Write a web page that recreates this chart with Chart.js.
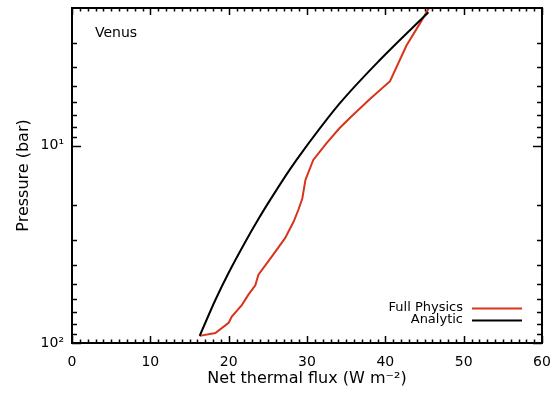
<!DOCTYPE html>
<html>
<head>
<meta charset="utf-8">
<script src="https://cdn.jsdelivr.net/npm/chart.js@4.4.0/dist/chart.umd.min.js"></script>
<style>
  html, body { margin: 0; padding: 0; background: #fff; }
  #wrap { width: 554px; height: 396px; }
</style>
</head>
<body>
<div id="wrap"><canvas id="fluxChart"></canvas></div>
<script>
// Venus: net thermal flux vs pressure
const fullFlux = [16.3, 18.3, 20.0, 20.4, 21.7, 22.5, 23.4, 23.8, 25.5, 27.2, 28.3, 28.9, 29.4, 29.8, 30.8, 32.5, 34.2, 35.5, 38.0, 40.6, 42.7, 44.4, 45.7];
const fullPressure = [92, 89, 79, 73.5, 64, 57, 51, 45, 36.5, 29.4, 24.2, 21.1, 18.5, 14.9, 11.8, 9.7, 8.1, 7.2, 5.8, 4.7, 3.1, 2.4, 1.96];
const analyticFlux = [16.3, 18.3, 20.0, 22.1, 23.8, 25.3, 27.8, 29.5, 34.2, 39.3, 45.5];
const analyticPressure = [92, 60.5, 44.0, 30.8, 23.5, 18.8, 13.2, 10.6, 6.08, 3.67, 2.1];

const seriesNames = ["Full Physics", "Analytic"];
const seriesColors = ["#d8341a", "#000000"];

const xMajorTicks = [0, 10, 20, 30, 40, 50, 60];
const yMajorTicks = [10, 100];
const yTickLabels = ["10\u00b9", "10\u00b2"];
const yMinorTicks = [3, 4, 5, 6, 7, 8, 9, 20, 30, 40, 50, 60, 70, 80, 90];

const FONT = "'DejaVu Sans', sans-serif";

// IDL-style box with inward ticks, label and legend
const frame = {
  id: "frame",
  afterDatasetsDraw(chart) {
    const { ctx, chartArea: a, scales } = chart;
    const xs = scales.x, ys = scales.y;
    ctx.save();
    ctx.strokeStyle = "#000";
    ctx.lineWidth = 2;
    ctx.strokeRect(a.left, a.top, a.right - a.left, a.bottom - a.top);

    ctx.lineWidth = 1.5;
    ctx.beginPath();
    for (let v = 0; v <= 60; v++) {
      const len = v % 10 === 0 ? 7 : 3.5;
      const px = Math.round(xs.getPixelForValue(v)) + 0.5;
      ctx.moveTo(px, a.bottom); ctx.lineTo(px, a.bottom - len);
      ctx.moveTo(px, a.top); ctx.lineTo(px, a.top + len);
    }
    const yTicks = yMajorTicks.map(v => [v, 9]).concat(yMinorTicks.map(v => [v, 5]));
    yTicks.forEach(([v, len]) => {
      const py = Math.round(ys.getPixelForValue(v)) + 0.5;
      ctx.moveTo(a.left, py); ctx.lineTo(a.left + len, py);
      ctx.moveTo(a.right, py); ctx.lineTo(a.right - len, py);
    });
    ctx.stroke();

    ctx.fillStyle = "#000";
    ctx.font = "14px " + FONT;
    ctx.textAlign = "left";
    ctx.textBaseline = "middle";
    ctx.fillText("Venus", 95, 33);

    ctx.font = "13px " + FONT;
    ctx.textAlign = "right";
    chart.data.datasets.forEach((ds, i) => {
      const y = 308 + i * 12;
      ctx.fillStyle = "#000";
      ctx.fillText(ds.label, 463, y);
      ctx.strokeStyle = ds.borderColor;
      ctx.lineWidth = 2;
      ctx.beginPath();
      ctx.moveTo(472, y + 0.5);
      ctx.lineTo(522, y + 0.5);
      ctx.stroke();
    });
    ctx.restore();
  }
};

function toPoints(xv, yv) {
  return xv.map((x, i) => ({ x: x, y: yv[i] }));
}

// keep the plot box where the reference has it
function noScalePadding(scale) {
  scale.paddingTop = 0;
  scale.paddingBottom = 0;
  scale.paddingLeft = 0;
  scale.paddingRight = 0;
}

new Chart(document.getElementById("fluxChart"), {
  type: "scatter",
  data: {
    datasets: [
      {
        label: seriesNames[0],
        data: toPoints(fullFlux, fullPressure),
        borderColor: seriesColors[0],
        showLine: true,
        borderWidth: 2,
        pointRadius: 0,
        tension: 0,
        order: 1
      },
      {
        label: seriesNames[1],
        data: toPoints(analyticFlux, analyticPressure),
        borderColor: seriesColors[1],
        showLine: true,
        borderWidth: 2,
        pointRadius: 0,
        cubicInterpolationMode: "monotone",
        order: 0
      }
    ]
  },
  options: {
    responsive: true,
    maintainAspectRatio: false,
    animation: false,
    layout: { padding: { top: 8, right: 12, left: 0, bottom: 0 } },
    plugins: { legend: { display: false }, tooltip: { enabled: false } },
    scales: {
      x: {
        type: "linear",
        min: 0,
        max: 60,
        afterBuildTicks: (scale) => { scale.ticks = xMajorTicks.map(v => ({ value: v })); },
        afterFit: (scale) => { scale.height = 53; noScalePadding(scale); },
        grid: { display: false, drawTicks: false },
        border: { display: false },
        ticks: { color: "#000", font: { family: FONT, size: 14 }, padding: 11, maxRotation: 0 },
        title: {
          display: true,
          text: "Net thermal flux (W m\u207b\u00b2)",
          color: "#000",
          font: { family: FONT, size: 16 },
          padding: { top: 0, bottom: 8 }
        }
      },
      y: {
        type: "logarithmic",
        reverse: true,
        min: 2,
        max: 100,
        afterBuildTicks: (scale) => { scale.ticks = yMajorTicks.map(v => ({ value: v })); },
        afterFit: (scale) => { scale.width = 72; noScalePadding(scale); },
        grid: { display: false, drawTicks: false },
        border: { display: false },
        ticks: {
          color: "#000",
          font: { family: FONT, size: 14 },
          padding: 8,
          callback: (v) => yTickLabels[yMajorTicks.indexOf(v)]
        },
        title: {
          display: true,
          text: "Pressure (bar)",
          color: "#000",
          font: { family: FONT, size: 16 },
          padding: { top: 14, bottom: 0 }
        }
      }
    }
  },
  plugins: [frame]
});
</script>
</body>
</html>
